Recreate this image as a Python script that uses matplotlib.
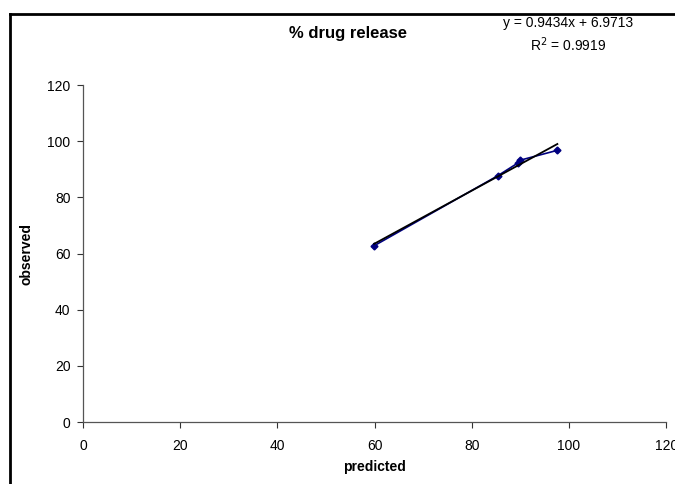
import matplotlib.pyplot as plt
from matplotlib.lines import Line2D

plt.rcParams['font.family'] = ['Liberation Sans', 'DejaVu Sans']

# Data
predicted = [59.9, 85.3, 89.4, 90.0, 97.6]
observed = [62.8, 87.7, 92.2, 93.3, 96.8]
slope, intercept = 0.9434, 6.9713
r_squared = 0.9919
x_ticks = [0, 20, 40, 60, 80, 100, 120]
y_ticks = [0, 20, 40, 60, 80, 100, 120]

fig = plt.figure(figsize=(6.75, 4.84), dpi=100)
ax = fig.add_axes([0.123, 0.128, 0.864, 0.696])

# data series and linear trendline
ax.plot(predicted, observed, color='#000080', lw=1.2, marker='D', markersize=3.5)
tx = [min(predicted), max(predicted)]
ty = [slope * v + intercept for v in tx]
ax.plot(tx, ty, color='black', lw=1.3)

ax.set_xlim(0, 120)
ax.set_ylim(0, 120)
ax.set_xticks(x_ticks)
ax.set_yticks(y_ticks)
ax.tick_params(direction='out', length=4, width=0.8, labelsize=10, colors='#333333',
               labelcolor='black')
ax.tick_params(axis='x', pad=8)
ax.tick_params(axis='y', pad=5)
ax.spines['top'].set_visible(False)
ax.spines['right'].set_visible(False)
for s in ['left', 'bottom']:
    ax.spines[s].set_color('#555555')
    ax.spines[s].set_linewidth(0.9)

ax.set_xlabel('predicted', fontsize=10, fontweight='bold', labelpad=5)
ax.set_ylabel('observed', fontsize=10, fontweight='bold', labelpad=10)

fig.text(0.515, 0.93, '% drug release', ha='center', va='center', fontsize=12, fontweight='bold')
fig.text(0.842, 0.953, f'y = {slope}x + {intercept}', ha='center', va='center', fontsize=10)
fig.text(0.842, 0.908, f'R$^2$ = {r_squared}', ha='center', va='center', fontsize=10)

# outer frame (cropped chart border)
fig.add_artist(Line2D([10 / 675, 10 / 675], [0, 1 - 14 / 484], transform=fig.transFigure,
                      color='black', lw=2))
fig.add_artist(Line2D([10 / 675, 1], [1 - 14 / 484, 1 - 14 / 484], transform=fig.transFigure,
                      color='black', lw=2))

fig.savefig('out.png', dpi=100)
plt.close(fig)
